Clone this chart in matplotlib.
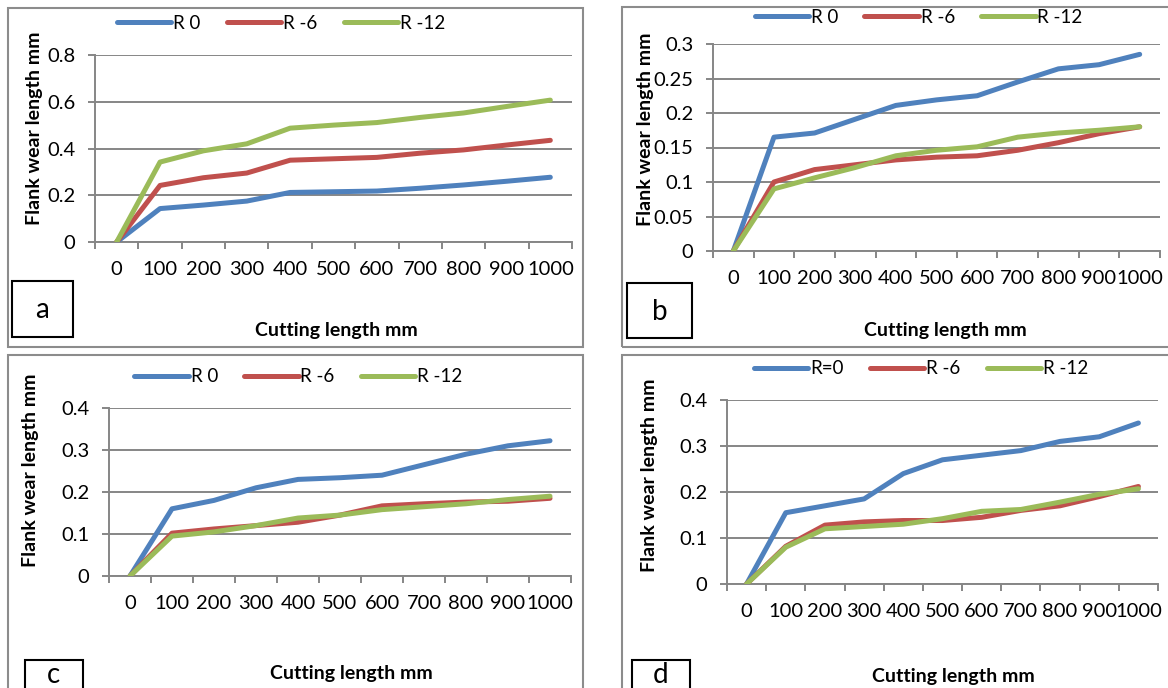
import numpy as np
import matplotlib.pyplot as plt
from matplotlib.patches import Rectangle

plt.rcParams['font.family'] = ['Lato', 'DejaVu Sans']

W, H = 1168, 688

# data
cut_len = ['0', '100', '200', '300', '400', '500', '600', '700', '800', '900', '1000']
names_abc = ['R 0', 'R -6', 'R -12']
names_d = ['R=0', 'R -6', 'R -12']

a_r0 = [0, 0.143, 0.158, 0.175, 0.212, 0.215, 0.218, 0.230, 0.244, 0.260, 0.277]
a_r6 = [0, 0.242, 0.275, 0.295, 0.350, 0.356, 0.362, 0.380, 0.394, 0.415, 0.435]
a_r12 = [0, 0.342, 0.390, 0.420, 0.487, 0.500, 0.511, 0.533, 0.552, 0.580, 0.607]

b_r0 = [0, 0.165, 0.171, 0.191, 0.211, 0.219, 0.225, 0.245, 0.264, 0.270, 0.285]
b_r6 = [0, 0.100, 0.118, 0.125, 0.132, 0.136, 0.138, 0.146, 0.157, 0.170, 0.180]
b_r12 = [0, 0.090, 0.106, 0.121, 0.138, 0.146, 0.151, 0.165, 0.171, 0.175, 0.180]

c_r0 = [0, 0.160, 0.180, 0.210, 0.230, 0.234, 0.240, 0.265, 0.290, 0.310, 0.322]
c_r6 = [0, 0.102, 0.112, 0.120, 0.128, 0.145, 0.167, 0.172, 0.176, 0.178, 0.185]
c_r12 = [0, 0.095, 0.105, 0.120, 0.138, 0.145, 0.158, 0.165, 0.172, 0.182, 0.190]

d_r0 = [0, 0.155, 0.170, 0.185, 0.240, 0.270, 0.280, 0.290, 0.310, 0.320, 0.350]
d_r6 = [0, 0.082, 0.128, 0.135, 0.138, 0.138, 0.145, 0.160, 0.170, 0.190, 0.212]
d_r12 = [0, 0.080, 0.120, 0.125, 0.130, 0.142, 0.158, 0.162, 0.178, 0.195, 0.207]

COLORS = ['#4F81BD', '#C0504D', '#9BBB59']
GRID = '#868686'


def fig_rect(x0, y0, x1, y1):
    """pixel box -> figure fraction [l, b, w, h]."""
    return [x0 / W, 1 - y1 / H, (x1 - x0) / W, (y1 - y0) / H]


panels = [
    dict(tag='a', series=[a_r0, a_r6, a_r12], names=names_abc,
         ax=(95, 55, 572, 242), ymax=0.8, ystep=0.2,
         border=(8, 8, 583, 347), box=(12, 281, 73, 337),
         leg=(0.39, 1.17), ylab=(-0.109, 0.61), xlab=(0.507, -0.43)),
    dict(tag='b', series=[b_r0, b_r6, b_r12], names=names_abc,
         ax=(713, 44, 1160, 251), ymax=0.3, ystep=0.05,
         border=(622, 7, 1175, 347), box=(627, 283, 692, 338),
         leg=(0.46, 1.13), ylab=(-0.132, 0.59), xlab=(0.52, -0.343)),
    dict(tag='c', series=[c_r0, c_r6, c_r12], names=names_abc,
         ax=(109, 408, 571, 576), ymax=0.4, ystep=0.1,
         border=(8, 355, 583, 700), box=(25, 660, 83, 700),
         leg=(0.41, 1.185), ylab=(-0.152, 0.63), xlab=(0.524, -0.53)),
    dict(tag='d', series=[d_r0, d_r6, d_r12], names=names_d,
         ax=(727, 400, 1158, 584), ymax=0.4, ystep=0.1,
         border=(622, 355, 1175, 700), box=(632, 660, 690, 700),
         leg=(0.45, 1.17), ylab=(-0.16, 0.59), xlab=(0.525, -0.457)),
]

fig = plt.figure(figsize=(W / 100, H / 100), dpi=100)

for p in panels:
    # outer frame of each chart
    x0, y0, x1, y1 = p['border']
    fig.add_artist(Rectangle((x0 / W, 1 - y1 / H), (x1 - x0) / W, (y1 - y0) / H,
                             transform=fig.transFigure, fill=False,
                             edgecolor='#8c8c8c', lw=1.5))
    ax = fig.add_axes(fig_rect(*p['ax']))
    x = np.arange(len(cut_len))
    for vals, name, col in zip(p['series'], p['names'], COLORS):
        ax.plot(x, vals, color=col, lw=3.6, label=name, solid_capstyle='round',
                solid_joinstyle='round', zorder=3)

    ax.set_xlim(-0.5, len(cut_len) - 0.5)
    ax.set_ylim(0, p['ymax'])
    yt = np.arange(0, p['ymax'] + 1e-9, p['ystep'])
    ax.set_yticks(yt)
    ax.set_yticklabels([f'{v:g}' for v in yt], fontsize=14.5)
    ax.yaxis.grid(True, color=GRID, lw=1.4)
    ax.set_axisbelow(True)

    # category axis: marks between categories, labels in the middle
    ax.set_xticks(np.arange(-0.5, len(cut_len), 1.0))
    ax.set_xticklabels([])
    ax.set_xticks(x, minor=True)
    ax.set_xticklabels(cut_len, minor=True, fontsize=14.5)
    ax.tick_params(axis='x', which='major', length=5, color=GRID, width=1.4)
    ax.tick_params(axis='x', which='minor', length=0, pad=14)
    ax.tick_params(axis='y', length=5, color=GRID, width=1.4, pad=9)

    for s in ('top', 'right'):
        ax.spines[s].set_visible(False)
    for s in ('left', 'bottom'):
        ax.spines[s].set_color(GRID)
        ax.spines[s].set_linewidth(1.4)

    ax.set_ylabel('Flank wear length mm', fontsize=14, fontweight='bold')
    ax.yaxis.set_label_coords(*p['ylab'])
    ax.set_xlabel('Cutting length mm', fontsize=14, fontweight='bold')
    ax.xaxis.set_label_coords(*p['xlab'])

    ax.legend(loc='center', bbox_to_anchor=p['leg'], ncol=3, frameon=False,
              fontsize=13.5, handlelength=2.9, handletextpad=0.1,
              columnspacing=1.4)

    # small letter box
    bx0, by0, bx1, by1 = p['box']
    fig.add_artist(Rectangle((bx0 / W, 1 - by1 / H), (bx1 - bx0) / W, (by1 - by0) / H,
                             transform=fig.transFigure, facecolor='white',
                             edgecolor='black', lw=1.5))
    ty = min(by1, 688)
    fig.text((bx0 + bx1) / 2 / W, 1 - (by0 + ty) / 2 / H - 0.002, p['tag'],
             fontsize=20, ha='center', va='center')

fig.savefig('out.png', dpi=100)
